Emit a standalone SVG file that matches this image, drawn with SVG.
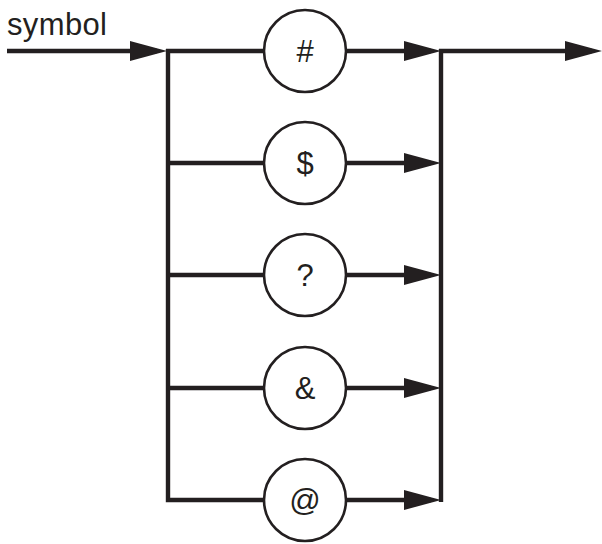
<svg xmlns="http://www.w3.org/2000/svg" width="602" height="544" viewBox="0 0 602 544">
<style>
.ln{fill:none;stroke:#231f20;stroke-width:4.4;stroke-linejoin:miter;stroke-linecap:butt}
.arr{marker-end:url(#ah)}
.nd{fill:#fff;stroke:#231f20;stroke-width:2.6}
.t{font-family:"Liberation Sans",Arial,sans-serif;font-size:31px;fill:#231f20}
.c{text-anchor:middle}
</style>
<defs>
<marker id="ah" markerUnits="userSpaceOnUse" markerWidth="38" markerHeight="21" refX="27" refY="10" orient="auto" viewBox="0 0 38 21">
<path d="M0,0 L37,10 L0,20 Z" fill="#231f20"/>
</marker>
</defs>
<rect width="602" height="544" fill="#fff"/>
<g id="connectors">
<path class="ln arr" d="M7,51 H157"/>
<path class="ln" d="M166,51 H264 M168,49 V500 H264"/>
<path class="ln" d="M168,163 H264 M168,275 H264 M168,388 H264"/>
<path class="ln arr" d="M346,51 H431"/>
<path class="ln arr" d="M346,163 H431"/>
<path class="ln arr" d="M346,275 H431"/>
<path class="ln arr" d="M346,388 H431"/>
<path class="ln arr" d="M346,500 H431"/>
<path class="ln" d="M441,502 V49"/>
<path class="ln arr" d="M439,51 H592"/>
</g>
<g id="label-symbol"><text class="t" x="7" y="35" textLength="100" lengthAdjust="spacing">symbol</text></g>
<g id="node-hash"><circle class="nd" cx="305" cy="51" r="41"/><text class="t c" x="305" y="62">#</text></g>
<g id="node-dollar"><circle class="nd" cx="305" cy="163" r="41"/><text class="t c" x="305" y="174">$</text></g>
<g id="node-question"><circle class="nd" cx="305" cy="275" r="41"/><text class="t c" x="305" y="286">?</text></g>
<g id="node-amp"><circle class="nd" cx="305" cy="388" r="41"/><text class="t c" x="305" y="399">&amp;</text></g>
<g id="node-at"><circle class="nd" cx="305" cy="500" r="41"/><text class="t c" x="305" y="511">@</text></g>
</svg>
